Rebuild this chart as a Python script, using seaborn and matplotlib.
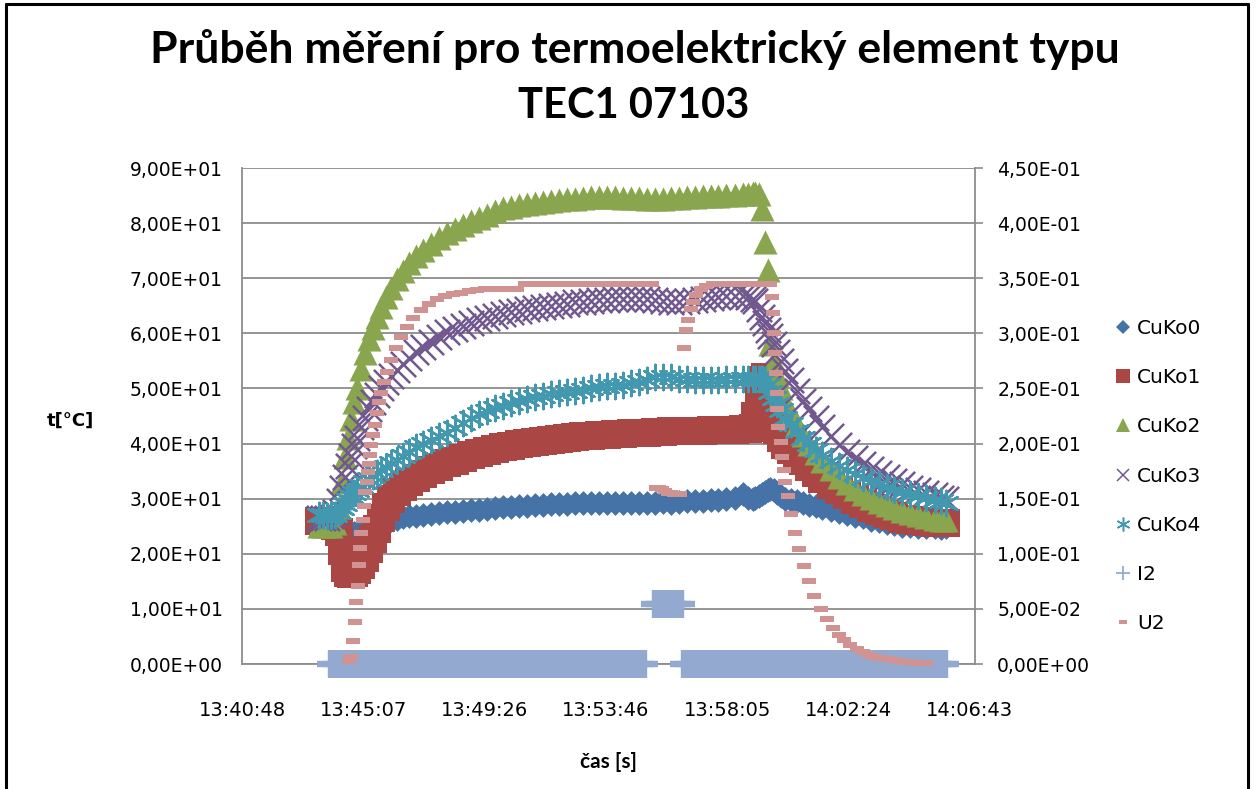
import matplotlib
matplotlib.use("Agg")
import matplotlib.pyplot as plt
from matplotlib.lines import Line2D
from matplotlib.ticker import FixedLocator, FuncFormatter
import seaborn as sns

# ---------------- data (time = seconds after 13:40:48) ----------------
t_s = [164, 173, 181, 190, 199, 207, 214, 220, 226, 233,
       239, 246, 254, 263, 271, 280, 288, 297, 307, 318,
       331, 344, 357, 371, 386, 404, 421, 438, 455, 472,
       489, 506, 523, 540, 557, 574, 591, 608, 626, 643,
       660, 677, 694, 711, 728, 745, 762, 779, 796, 813,
       831, 848, 865, 882, 899, 916, 933, 950, 967, 984,
       1001, 1018, 1035, 1053, 1070, 1082, 1091, 1097, 1104, 1110,
       1117, 1123, 1129, 1136, 1142, 1151, 1161, 1172, 1185, 1198,
       1211, 1226, 1240, 1258, 1275, 1292, 1309, 1326, 1343, 1360,
       1377, 1394, 1411, 1428, 1445, 1462, 1480, 1494, 1505]

cuko0 = [26.0, 25.8, 25.5, 25.0, 24.5, 24.0, 23.8, 23.6, 23.5, 23.5,
         23.7, 24.0, 24.4, 24.8, 25.1, 25.4, 25.6, 25.8, 26.0, 26.2,
         26.4, 26.6, 26.8, 26.9, 27.1, 27.2, 27.4, 27.5, 27.6, 27.8,
         27.9, 28.0, 28.1, 28.3, 28.4, 28.5, 28.6, 28.7, 28.8, 28.9,
         29.0, 29.0, 29.1, 29.2, 29.2, 29.3, 29.3, 29.2, 29.3, 29.3,
         29.2, 29.3, 29.2, 29.3, 29.4, 29.3, 29.4, 29.5, 29.6, 29.5,
         29.7, 29.8, 29.9, 30.1, 30.8, 30.2, 30.0, 30.2, 30.5, 30.9,
         31.3, 31.6, 31.8, 31.5, 31.0, 30.4, 30.0, 29.8, 29.5, 29.2,
         28.9, 28.6, 28.3, 27.9, 27.6, 27.2, 26.9, 26.6, 26.2, 25.9,
         25.6, 25.4, 25.1, 25.0, 24.9, 24.8, 24.8, 24.7, 24.8]

cuko1 = [26.0, 26.0, 25.8, 25.5, 25.0, 24.0, 20.5, 17.5, 16.6, 16.4,
         16.6, 17.0, 18.0, 19.2, 20.8, 22.6, 24.5, 26.5, 28.5, 30.0,
         31.2, 32.2, 33.0, 33.8, 34.5, 35.2, 35.8, 36.4, 36.9, 37.4,
         37.9, 38.3, 38.7, 39.0, 39.3, 39.6, 39.9, 40.1, 40.3, 40.5,
         40.7, 40.9, 41.0, 41.2, 41.3, 41.4, 41.5, 41.6, 41.7, 41.8,
         41.9, 42.0, 42.0, 42.1, 42.1, 42.2, 42.2, 42.2, 42.3, 42.3,
         42.4, 42.4, 42.5, 42.5, 42.6, 42.6, 42.8, 45.0, 48.5, 51.5,
         52.0, 50.5, 46.0, 44.0, 42.5, 41.0, 39.8, 38.8, 37.8, 36.8,
         35.8, 34.7, 33.6, 32.5, 31.5, 30.6, 29.8, 29.0, 28.3, 27.7,
         27.2, 26.8, 26.4, 26.1, 25.9, 25.7, 25.6, 25.5, 25.5]

cuko2 = [25.0, 25.0, 25.0, 25.0, 25.5, 28.5, 33.0, 37.5, 41.0, 44.5,
         47.5, 50.0, 53.5, 56.5, 59.0, 61.0, 63.0, 64.8, 66.6, 68.2,
         69.8, 71.3, 72.8, 74.0, 75.2, 76.3, 77.3, 78.2, 79.0, 79.7,
         80.3, 80.9, 81.4, 82.2, 82.7, 83.0, 83.3, 83.5, 83.7, 83.9,
         84.1, 84.2, 84.4, 84.4, 84.6, 84.7, 84.8, 84.8, 84.7, 84.6,
         84.5, 84.5, 84.4, 84.4, 84.4, 84.5, 84.6, 84.7, 84.8, 84.9,
         85.0, 85.0, 85.1, 85.1, 85.2, 85.3, 85.4, 85.5, 85.3, 82.5,
         76.5, 71.5, 58.0, 55.0, 52.5, 50.0, 47.5, 45.5, 43.5, 41.5,
         40.0, 38.3, 36.8, 35.3, 34.0, 32.8, 31.8, 30.9, 30.1, 29.4,
         28.8, 28.3, 27.8, 27.4, 27.0, 26.7, 26.4, 26.2, 26.1]

cuko3 = [26.5, 26.5, 26.5, 26.8, 27.5, 29.5, 32.0, 34.0, 36.0, 37.8,
         39.5, 41.0, 43.0, 44.7, 46.2, 47.6, 48.9, 50.0, 51.2, 52.2,
         53.3, 54.4, 55.5, 56.6, 57.6, 58.5, 59.4, 60.2, 60.8, 61.4,
         61.9, 62.4, 62.8, 63.2, 63.5, 63.8, 64.1, 64.4, 64.6, 64.8,
         65.0, 65.2, 65.4, 65.6, 65.7, 65.9, 66.0, 66.1, 66.2, 66.3,
         66.3, 66.3, 66.2, 66.0, 65.8, 65.7, 65.7, 65.9, 66.1, 66.3,
         66.5, 66.6, 66.7, 66.7, 66.7, 66.6, 66.3, 65.8, 64.5, 63.0,
         61.8, 60.6, 59.5, 58.0, 56.6, 55.0, 53.2, 51.5, 49.6, 47.8,
         46.3, 44.6, 43.0, 41.3, 39.8, 38.5, 37.3, 36.3, 35.4, 34.6,
         33.9, 33.2, 32.6, 32.0, 31.5, 31.0, 30.6, 30.2, 30.0]

cuko4 = [27.0, 27.0, 26.8, 26.8, 27.0, 27.5, 28.3, 29.0, 29.7, 30.4,
         31.0, 31.6, 32.3, 33.0, 33.6, 34.2, 34.7, 35.2, 35.8, 36.4,
         37.1, 37.8, 38.5, 39.3, 40.0, 40.7, 41.3, 42.0, 42.9, 43.8,
         44.6, 45.3, 45.9, 46.4, 46.9, 47.3, 47.7, 48.1, 48.4, 48.7,
         49.0, 49.2, 49.4, 49.6, 49.8, 50.0, 50.2, 50.4, 50.5, 50.7,
         50.9, 51.2, 51.6, 52.0, 52.1, 52.0, 51.8, 51.7, 51.6, 51.6,
         51.6, 51.6, 51.7, 51.7, 51.7, 51.7, 51.7, 51.8, 51.8, 51.8,
         51.5, 50.6, 49.3, 48.2, 47.2, 46.0, 44.7, 43.5, 42.2, 41.0,
         40.0, 38.9, 37.9, 36.9, 36.0, 35.2, 34.5, 33.8, 33.2, 32.6,
         32.1, 31.6, 31.2, 30.8, 30.4, 30.1, 29.8, 29.5, 29.3]

u2_t = [228, 233, 237, 241, 243, 248, 250, 252, 254, 258,
        260, 263, 267, 269, 271, 273, 275, 280, 284, 288,
        292, 297, 303, 310, 318, 329, 339, 352, 365, 382,
        399, 416, 433, 450, 468, 485, 502, 519, 536, 553,
        570, 587, 604, 621, 638, 655, 673, 690, 707, 724,
        741, 758, 775, 792, 809, 826, 843, 860, 877,
        884, 890, 897, 903, 910, 916, 922, 929, 935,
        944, 948, 952, 959, 963, 969, 980, 991, 1006, 1023,
        1040, 1057, 1074, 1091, 1108, 1125,
        1129, 1132, 1134, 1136, 1138, 1140, 1142, 1144, 1146, 1151,
        1153, 1157, 1161, 1166, 1172, 1181, 1189, 1200, 1211, 1223,
        1236, 1249, 1262, 1275, 1287, 1300, 1313, 1326, 1339, 1351,
        1364, 1377, 1390, 1403, 1416, 1428, 1441, 1454, 1462]
u2_v = [0.003, 0.006, 0.021, 0.038, 0.056, 0.071, 0.090, 0.105, 0.119, 0.131,
        0.143, 0.156, 0.165, 0.174, 0.181, 0.190, 0.199, 0.208, 0.217, 0.228,
        0.238, 0.246, 0.256, 0.265, 0.276, 0.287, 0.297, 0.306, 0.314, 0.321,
        0.327, 0.331, 0.334, 0.336, 0.337, 0.338, 0.339, 0.340, 0.340, 0.340,
        0.340, 0.340, 0.345, 0.345, 0.345, 0.345, 0.345, 0.345, 0.345, 0.345,
        0.345, 0.345, 0.345, 0.345, 0.345, 0.345, 0.345, 0.345, 0.345,
        0.160, 0.160, 0.159, 0.157, 0.155, 0.155, 0.154, 0.154, 0.154,
        0.287, 0.303, 0.312, 0.322, 0.328, 0.335, 0.340, 0.343, 0.345, 0.345,
        0.345, 0.345, 0.345, 0.345, 0.345, 0.345,
        0.345, 0.333, 0.318, 0.300, 0.282, 0.264, 0.246, 0.231, 0.215, 0.201,
        0.188, 0.176, 0.165, 0.152, 0.136, 0.119, 0.104, 0.089, 0.075, 0.062,
        0.050, 0.041, 0.033, 0.026, 0.022, 0.017, 0.014, 0.011, 0.0086, 0.0068,
        0.0054, 0.0041, 0.0032, 0.0024, 0.0018, 0.0014, 0.0009, 0.0006, 0.0005]

i2_t = [190, 202, 214, 226, 238, 250, 262, 274, 286, 298,
        310, 322, 334, 346, 358, 370, 382, 394, 406, 418,
        430, 442, 454, 466, 478, 490, 502, 514, 526, 538,
        550, 562, 574, 586, 598, 610, 622, 634, 646, 658,
        670, 682, 694, 706, 718, 730, 742, 754, 766, 778,
        790, 802, 814, 826, 838, 850, 858,
        882, 894, 906, 918, 930, 938,
        944, 956, 968, 980, 992, 1004, 1016, 1028, 1040, 1052,
        1064, 1076, 1088, 1100, 1112, 1124, 1136, 1148, 1160, 1172,
        1184, 1196, 1208, 1220, 1232, 1244, 1256, 1268, 1280, 1292,
        1304, 1316, 1328, 1340, 1352, 1364, 1376, 1388, 1400, 1412,
        1424, 1436, 1448, 1460, 1472, 1484, 1496, 1502]
i2_v = [0.0, 0.0, 0.0, 0.0, 0.0, 0.0, 0.0, 0.0, 0.0, 0.0,
        0.0, 0.0, 0.0, 0.0, 0.0, 0.0, 0.0, 0.0, 0.0, 0.0,
        0.0, 0.0, 0.0, 0.0, 0.0, 0.0, 0.0, 0.0, 0.0, 0.0,
        0.0, 0.0, 0.0, 0.0, 0.0, 0.0, 0.0, 0.0, 0.0, 0.0,
        0.0, 0.0, 0.0, 0.0, 0.0, 0.0, 0.0, 0.0, 0.0, 0.0,
        0.0, 0.0, 0.0, 0.0, 0.0, 0.0, 0.0,
        0.054, 0.054, 0.054, 0.054, 0.054, 0.054,
        0.0, 0.0, 0.0, 0.0, 0.0, 0.0, 0.0, 0.0, 0.0, 0.0,
        0.0, 0.0, 0.0, 0.0, 0.0, 0.0, 0.0, 0.0, 0.0, 0.0,
        0.0, 0.0, 0.0, 0.0, 0.0, 0.0, 0.0, 0.0, 0.0, 0.0,
        0.0, 0.0, 0.0, 0.0, 0.0, 0.0, 0.0, 0.0, 0.0, 0.0,
        0.0, 0.0, 0.0, 0.0, 0.0, 0.0, 0.0, 0.0]

x_tick_pos = [0, 259.17, 518.33, 777.5, 1036.67, 1295.83, 1555]
x_tick_labels = ["13:40:48", "13:45:07", "13:49:26", "13:53:46",
                 "13:58:05", "14:02:24", "14:06:43"]
left_ticks = [0, 10, 20, 30, 40, 50, 60, 70, 80, 90]
right_ticks = [0, 0.05, 0.10, 0.15, 0.20, 0.25, 0.30, 0.35, 0.40, 0.45]
names = ["CuKo0", "CuKo1", "CuKo2", "CuKo3", "CuKo4", "I2", "U2"]
title_1 = "Průběh měření pro termoelektrický element typu"
title_2 = "TEC1 07103"

for arr in (cuko0, cuko1, cuko2, cuko3, cuko4):
    assert len(arr) == len(t_s)
assert len(u2_t) == len(u2_v) and len(i2_t) == len(i2_v)

# ---------------- style ----------------
sns.set_theme(style="white")
plt.rcParams['font.family'] = ['DejaVu Sans']
plt.rcParams['text.color'] = 'black'

colors = {"CuKo0": "#4572A7", "CuKo1": "#AA4643", "CuKo2": "#89A54E",
          "CuKo3": "#71588F", "CuKo4": "#4198AF", "I2": "#93A9CF", "U2": "#D19392"}
dash = [(-1, -0.5), (1, -0.5), (1, 0.5), (-1, 0.5), (-1, -0.5)]

W, H = 1258, 789
fig = plt.figure(figsize=(W / 100, H / 100), dpi=100)
ax = fig.add_axes([242 / W, 1 - 664 / H, (975 - 242) / W, (664 - 168) / H])
ax2 = ax.twinx()

grid_c = "#8C8C8C"

# primary series (drawn in Excel order: later series on top)
sns.scatterplot(x=t_s, y=cuko0, ax=ax, marker="D", s=160, color=colors["CuKo0"], linewidth=0, legend=False)
sns.scatterplot(x=t_s, y=cuko1, ax=ax, marker="s", s=380, color=colors["CuKo1"], linewidth=0, legend=False)
sns.scatterplot(x=t_s, y=cuko2, ax=ax, marker="^", s=300, color=colors["CuKo2"], linewidth=0, legend=False)
sns.scatterplot(x=t_s, y=cuko3, ax=ax, marker="x", s=330, color=colors["CuKo3"], linewidth=1.8, legend=False)
sns.scatterplot(x=t_s, y=cuko4, ax=ax, marker=(6, 2, 0), s=330, color=colors["CuKo4"], linewidth=1.8, legend=False)

# secondary series
sns.scatterplot(x=i2_t, y=i2_v, ax=ax2, marker="+", s=380, color=colors["I2"], linewidth=4.6,
                legend=False, clip_on=False)
sns.scatterplot(x=u2_t, y=u2_v, ax=ax2, marker=dash, s=100, color=colors["U2"], linewidth=0,
                legend=False, clip_on=False)

fmt = FuncFormatter(lambda v, p: f"{v:.2E}".replace(".", ","))

ax.set_xlim(0, 1566)
ax.set_ylim(0, 90)
ax2.set_ylim(0, 0.45)
ax.xaxis.set_major_locator(FixedLocator(x_tick_pos))
ax.set_xticklabels(x_tick_labels, fontsize=14)
ax.yaxis.set_major_locator(FixedLocator(left_ticks))
ax.yaxis.set_major_formatter(fmt)
ax2.yaxis.set_major_locator(FixedLocator(right_ticks))
ax2.yaxis.set_major_formatter(fmt)

ax.tick_params(axis="x", length=0, pad=27, labelcolor="black")
ax.tick_params(axis="y", length=0, pad=14, labelsize=13.5, labelcolor="black")
ax2.tick_params(axis="y", length=6, width=1.2, color=grid_c, pad=10, labelsize=13.5, labelcolor="black")
ax.set_xlabel("")
ax.set_ylabel("")
ax2.set_ylabel("")

ax.yaxis.grid(True, color=grid_c, linewidth=1.3)
ax.xaxis.grid(False)
ax.set_axisbelow(True)
for sp in ("top", "right"):
    ax.spines[sp].set_visible(False)
for sp in ("left", "bottom"):
    ax.spines[sp].set_color(grid_c)
    ax.spines[sp].set_linewidth(1.3)
for sp in ("top", "left", "bottom"):
    ax2.spines[sp].set_visible(False)
ax2.spines["right"].set_color(grid_c)
ax2.spines["right"].set_linewidth(1.3)

# titles / labels
fig.text(635 / W, 1 - 50 / H, title_1, ha="center", va="center", fontsize=32,
         fontweight="bold", family="Lato", color="black")
fig.text(634 / W, 1 - 106 / H, title_2, ha="center", va="center", fontsize=30,
         fontweight="bold", family="Lato", color="black")
fig.text(70 / W, 1 - 421 / H, "t[°C]", ha="center", va="center", fontsize=13, fontweight="bold")
fig.text(608 / W, 1 - 762 / H, "čas [s]", ha="center", va="center", fontsize=15,
         fontweight="bold", family="Lato")

# legend
handles = [
    Line2D([], [], ls="none", marker="D", markersize=7.5, color=colors["CuKo0"], mew=0),
    Line2D([], [], ls="none", marker="s", markersize=10, color=colors["CuKo1"], mew=0),
    Line2D([], [], ls="none", marker="^", markersize=10.5, color=colors["CuKo2"], mew=0),
    Line2D([], [], ls="none", marker="x", markersize=9, color=colors["CuKo3"], mew=1.1),
    Line2D([], [], ls="none", marker=(6, 2, 0), markersize=10, color=colors["CuKo4"], mew=1.1),
    Line2D([], [], ls="none", marker="+", markersize=10, color=colors["I2"], mew=1.3),
    Line2D([], [], ls="none", marker=dash, markersize=6, color=colors["U2"], mew=0),
]
fig.legend(handles, names, loc="upper left", bbox_to_anchor=(1114 / W, 1 - 319 / H),
           frameon=False, fontsize=14.5, handlelength=0.85, handletextpad=0.3,
           labelspacing=1.5, borderpad=0, borderaxespad=0)

# outer border
for xs, ys in (([6, 6], [789, 4]), ([6, 1248], [4, 4]), ([1248, 1248], [4, 789])):
    fig.add_artist(Line2D([x / W for x in xs], [1 - y / H for y in ys],
                          transform=fig.transFigure, color="black", lw=2.2))

fig.savefig("out.png", dpi=100)
